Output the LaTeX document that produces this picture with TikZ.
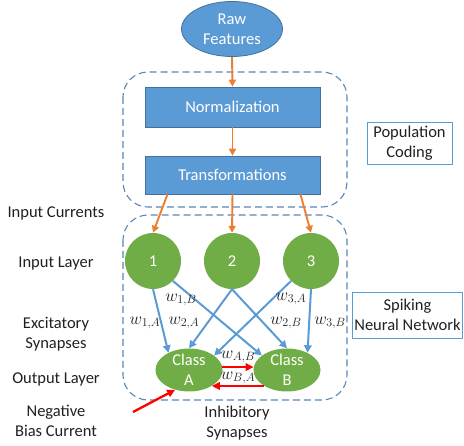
\documentclass[tikz,border=0pt]{standalone}
\usepackage{fontspec}
\setmainfont{Carlito}
\usetikzlibrary{arrows.meta,shapes.geometric,calc}
\definecolor{obl}{HTML}{5B9BD5}
\definecolor{obd}{HTML}{41719C}
\definecolor{ogr}{HTML}{70AD47}
\definecolor{oor}{HTML}{ED7D31}
\definecolor{dsh}{HTML}{5A86B8}
\definecolor{tx}{HTML}{202020}
\begin{document}
\begin{tikzpicture}[x=1pt,y=-1pt,
  every node/.style={font=\fontsize{16.5}{20}\selectfont, text=tx},
  txt/.style={align=center, inner sep=0pt},
  ell/.style={ellipse, fill=obl, draw=obd, line width=0.8pt, text=white, align=center, inner sep=0pt},
  box/.style={rectangle, fill=obl, draw=obd, line width=0.6pt, text=white, minimum width=175, inner sep=0pt},
  neuron/.style={circle, fill=ogr, text=white, minimum size=56, inner sep=0pt},
  cls/.style={ellipse, fill=ogr, minimum width=67, minimum height=43, inner sep=0pt},
  clstxt/.style={text=white, align=center, inner sep=0pt, font=\fontsize{16.5}{20}\selectfont},
  grp/.style={draw=dsh, line width=1.1pt, dash pattern=on 7pt off 4pt, rounded corners=25pt},
  tag/.style={draw=obl, line width=0.8pt, align=center, inner sep=0pt},
  oarr/.style={draw=oor, line width=1.9pt, -{Triangle[length=7pt,width=7pt]}},
  barr/.style={draw=obl, line width=2pt, -{Triangle[length=7.5pt,width=7.5pt]}},
  rarr/.style={draw=red, line width=2.3pt, -{Triangle[length=8pt,width=7.5pt]}},
  wl/.style={inner sep=0pt, font=\fontsize{16.5}{19}\selectfont}
]
\useasboundingbox (0,0) rectangle (464,446);

% groups
\draw[grp] (123,72) rectangle (347,207);
\draw[grp] (123,215) rectangle (347,400);

% top pipeline
\node[ell, minimum width=101, minimum height=55] (raw) at (232,29) {Raw\\Features};
\node[box, minimum height=40] (norm) at (232.5,107) {Normalization};
\node[box, minimum height=38] (trans) at (232.5,175) {Transformations};

% neurons
\node[neuron] (c1) at (153,261) {1};
\node[neuron] (c2) at (232,261) {2};
\node[neuron] (c3) at (311,261) {3};
\node[cls, label={[clstxt]center:{Class\\A}}] (A) at (189,370) {};
\node[cls, label={[clstxt]center:{Class\\B}}] (B) at (287,370) {};

% orange arrows
\draw[oarr] (raw.south) -- (norm.north);
\draw[oarr] (norm.south) -- (trans.north);
\draw[oarr] ([xshift=-65pt]trans.south) -- (c1.north);
\draw[oarr] (trans.south) -- (c2.north);
\draw[oarr] ([xshift=68pt]trans.south) -- (c3.north);

% excitatory synapses
\draw[barr] (c1.south) -- (A.140);
\draw[barr] (c1.-45) -- (B.150);
\draw[barr] (c2.south) -- (A.90);
\draw[barr] (c2.south) -- (B.90);
\draw[barr] (c3.-135) -- (A.30);
\draw[barr] (c3.south) -- (B.40);

\node[wl] (w1b) at (181,300) {$w_{1,B}$};
\node[wl] (w1a) at (145,323) {$w_{1,A}$};
\node[wl] (w2a) at (184,323) {$w_{2,A}$};
\node[wl] (w3a) at (291,299) {$w_{3,A}$};
\node[wl] (w2b) at (286,323) {$w_{2,B}$};
\node[wl] (w3b) at (330,323) {$w_{3,B}$};

% inhibitory synapses
\draw[rarr] (A.5) -- (B.175);
\draw[rarr] (B.215) -- (A.-35);
\node[wl] (wab) at (238,357) {$w_{A,B}$};
\node[wl] (wba) at (238,378) {$w_{B,A}$};

% bias current
\coordinate (bias) at (133,412);
\draw[rarr] (bias) -- (A.-125);

\node[txt] (inh) at (237,423) {Inhibitory\\Synapses};

% left labels
\node[txt] (l1) at (56,213) {Input Currents};
\node[txt] (l2) at (56,264) {Input Layer};
\node[txt] (l3) at (56,334) {Excitatory\\Synapses};
\node[txt] (l4) at (56,379) {Output Layer};
\node[txt] (l5) at (56,421) {Negative\\Bias Current};

% right tags
\node[tag, minimum width=85, minimum height=42] (pc) at (409.5,143) {Population\\Coding};
\node[tag, minimum width=110, minimum height=46] (snn) at (407.5,315) {Spiking\\Neural Network};
\end{tikzpicture}
\end{document}
